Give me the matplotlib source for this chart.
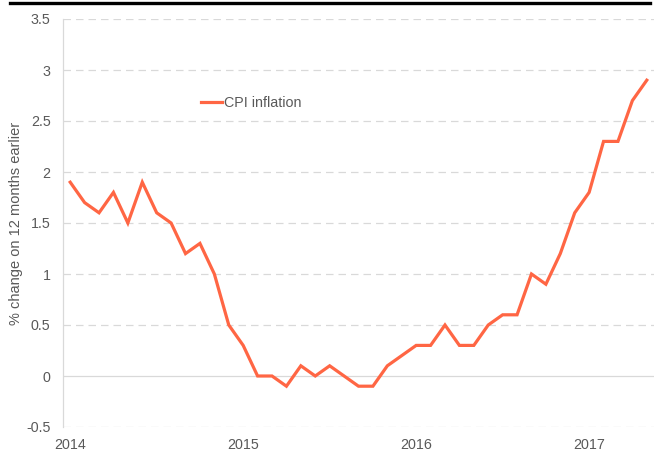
import matplotlib
matplotlib.use("Agg")
import matplotlib.pyplot as plt
from matplotlib.lines import Line2D

cpi_2014 = [1.9, 1.7, 1.6, 1.8, 1.5, 1.9, 1.6, 1.5, 1.2, 1.3, 1.0, 0.5]
cpi_2015 = [0.3, 0.0, 0.0, -0.1, 0.1, 0.0, 0.1, 0.0, -0.1, -0.1, 0.1, 0.2]
cpi_2016 = [0.3, 0.3, 0.5, 0.3, 0.3, 0.5, 0.6, 0.6, 1.0, 0.9, 1.2, 1.6]
cpi_2017 = [1.8, 2.3, 2.3, 2.7, 2.9]
values = cpi_2014 + cpi_2015 + cpi_2016 + cpi_2017
year_labels = ["2014", "2015", "2016", "2017"]
y_ticks = [-0.5, 0, 0.5, 1, 1.5, 2, 2.5, 3, 3.5]
y_labels = ["-0.5", "0", "0.5", "1", "1.5", "2", "2.5", "3", "3.5"]

plt.rcParams['font.family'] = ['Liberation Sans', 'DejaVu Sans']
fig = plt.figure(figsize=(6.54, 4.51), dpi=100)
ax = fig.add_axes([63/654, 1-427/451, 1-63/654, (427-19)/451])

months = list(range(len(values)))
ax.plot(months, values, color="#FF6644", lw=2.3, solid_joinstyle="miter", label="CPI inflation", zorder=3)

ax.set_xlim(-0.5, 40.5)
ax.set_ylim(-0.5, 3.5)
ax.set_xticks([0, 12, 24, 36])
ax.set_xticklabels(year_labels)
ax.set_yticks(y_ticks)
ax.set_yticklabels(y_labels)
ax.tick_params(axis="both", length=0, labelsize=10.3, colors="#595959")
ax.tick_params(axis="y", pad=9)
ax.tick_params(axis="x", pad=8)

for y in y_ticks:
    if y == 0:
        ax.axhline(y, color="#d9d9d9", lw=0.9, zorder=1)
    else:
        ax.axhline(y, color="#d9d9d9", lw=0.9, ls=(0, (6, 4)), zorder=1)

for s in ["top", "right", "bottom"]:
    ax.spines[s].set_visible(False)
ax.spines["left"].set_color("#d9d9d9")
ax.spines["left"].set_linewidth(0.9)

ax.set_ylabel("% change on 12 months earlier", fontsize=10.5, color="#595959", labelpad=2)

leg = ax.legend(loc="upper left", bbox_to_anchor=(0.223, 0.825), frameon=False,
                fontsize=10.3, handlelength=1.5, handletextpad=0.15, borderaxespad=0)
for t in leg.get_texts():
    t.set_color("#595959")

fig.add_artist(Line2D([10/654, 650/654], [1-3/451, 1-3/451], color="black", lw=2.4,
                      transform=fig.transFigure))

fig.savefig("out.png", dpi=100)
